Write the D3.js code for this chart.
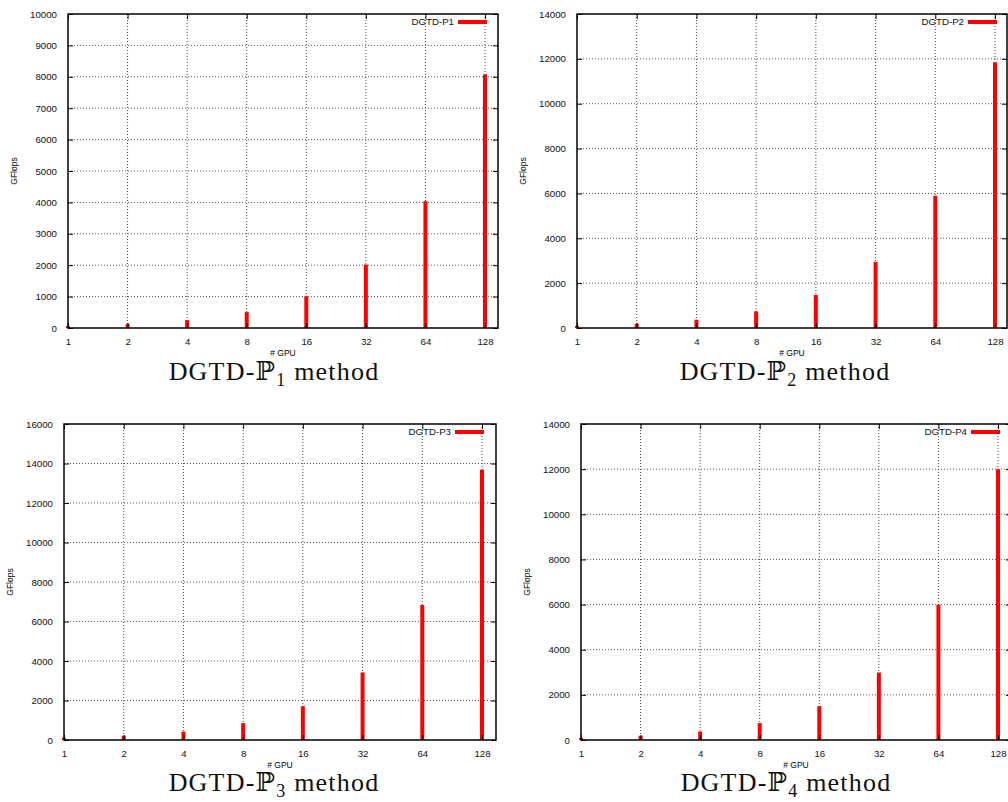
<!DOCTYPE html>
<html>
<head>
<meta charset="UTF-8">
<title>DGTD GFlops</title>
<script src="https://d3js.org/d3.v7.min.js"></script>
<style>
  body { margin: 0; background: #fff; }
  svg { display: block; }
</style>
</head>
<body>
<svg class="chart"></svg>
<script>
// data
const gpus = [1, 2, 4, 8, 16, 32, 64, 128];
const gflopsP1 = [62, 125, 250, 505, 1010, 2020, 4040, 8080];
const gflopsP2 = [92, 185, 370, 740, 1475, 2950, 5900, 11850];
const gflopsP3 = [107, 214, 428, 855, 1710, 3420, 6840, 13680];
const gflopsP4 = [94, 188, 375, 750, 1500, 2990, 5990, 11990];
const yTicksP1 = [0, 1000, 2000, 3000, 4000, 5000, 6000, 7000, 8000, 9000, 10000];
const yTicksP2 = [0, 2000, 4000, 6000, 8000, 10000, 12000, 14000];
const yTicksP3 = [0, 2000, 4000, 6000, 8000, 10000, 12000, 14000, 16000];
const yTicksP4 = [0, 2000, 4000, 6000, 8000, 10000, 12000, 14000];
const legendNames = ["DGTD-P1", "DGTD-P2", "DGTD-P3", "DGTD-P4"];
const titleSubs = ["1", "2", "3", "4"];

// panel placement
const panels = [
  {values: gflopsP1, ticks: yTicksP1, left: 68, top: 14, right: 498, bottom: 328, x128: 485, titleX: 274, titleY: 380},
  {values: gflopsP2, ticks: yTicksP2, left: 577, top: 14, right: 1007, bottom: 328, x128: 995, titleX: 785, titleY: 380},
  {values: gflopsP3, ticks: yTicksP3, left: 64, top: 424, right: 496, bottom: 740, x128: 482, titleX: 274, titleY: 791},
  {values: gflopsP4, ticks: yTicksP4, left: 581, top: 424, right: 1011, bottom: 740, x128: 998, titleX: 786, titleY: 791}
];

const svg = d3.select(".chart")
    .attr("width", 1008)
    .attr("height", 802);

const sans = "'Liberation Sans', Arial, sans-serif";

panels.forEach((p, i) => {
    const g = svg.append("g");

    const x = d3.scaleLog().base(2)
        .domain([1, 128])
        .range([p.left, p.x128]);

    const y = d3.scaleLinear()
        .domain([0, d3.max(p.ticks)])
        .range([p.bottom, p.top]);

    // grid lines
    g.selectAll(".hgrid")
        .data(p.ticks.slice(1, -1)).enter().append("line")
        .attr("x1", p.left).attr("x2", p.right)
        .attr("y1", d => y(d)).attr("y2", d => y(d))
        .style("stroke", "#555")
        .style("stroke-width", 1)
        .style("stroke-dasharray", "1,2");

    g.selectAll(".vgrid")
        .data(gpus.slice(1)).enter().append("line")
        .attr("x1", d => x(d)).attr("x2", d => x(d))
        .attr("y1", p.top).attr("y2", p.bottom)
        .style("stroke", "#444")
        .style("stroke-width", 1)
        .style("stroke-dasharray", "1,2");

    // bars (impulses)
    g.selectAll(".bar")
        .data(p.values).enter().append("line")
        .attr("x1", (d, j) => x(gpus[j])).attr("x2", (d, j) => x(gpus[j]))
        .attr("y1", y(0)).attr("y2", d => y(d))
        .style("stroke", "#ff0000")
        .style("stroke-width", 4);

    // y axis (ticks inward, labels outside)
    const yAxis = g.append("g")
        .attr("transform", `translate(${p.left},0)`)
        .call(d3.axisLeft(y).tickValues(p.ticks).tickSize(-5).tickPadding(11).tickFormat(d3.format("d")));
    yAxis.select(".domain").remove();

    const yAxisR = g.append("g")
        .attr("transform", `translate(${p.right},0)`)
        .call(d3.axisRight(y).tickValues(p.ticks).tickSize(-5).tickFormat(""));
    yAxisR.select(".domain").remove();

    const xAxis = g.append("g")
        .attr("transform", `translate(0,${p.bottom})`)
        .call(d3.axisBottom(x).tickValues(gpus).tickSize(-5).tickPadding(10).tickFormat(d3.format("d")));
    xAxis.select(".domain").remove();

    const xAxisT = g.append("g")
        .attr("transform", `translate(0,${p.top})`)
        .call(d3.axisTop(x).tickValues(gpus).tickSize(-5).tickFormat(""));
    xAxisT.select(".domain").remove();

    g.selectAll(".tick text")
        .style("font-family", sans)
        .style("font-size", "9.7px")
        .style("fill", "#111");
    g.selectAll(".tick line").style("stroke", "#000");

    // frame
    g.append("rect")
        .attr("x", p.left).attr("y", p.top)
        .attr("width", p.right - p.left).attr("height", p.bottom - p.top)
        .style("fill", "none")
        .style("stroke", "#000")
        .style("stroke-width", 1.5);

    // legend
    g.append("line")
        .attr("x1", p.x128 - 27).attr("x2", p.x128 + 2)
        .attr("y1", p.top + 8).attr("y2", p.top + 8)
        .style("stroke", "#ff0000")
        .style("stroke-width", 4);
    g.append("text")
        .attr("x", p.x128 - 31).attr("y", p.top + 11)
        .attr("text-anchor", "end")
        .style("font-family", sans)
        .style("font-size", "9.7px")
        .style("fill", "#111")
        .text(legendNames[i]);

    // axis labels
    g.append("text")
        .attr("x", (p.left + p.right) / 2)
        .attr("y", p.bottom + 28)
        .attr("text-anchor", "middle")
        .style("font-family", sans)
        .style("font-size", "8.5px")
        .text("# GPU");

    g.append("text")
        .attr("text-anchor", "middle")
        .attr("transform", `translate(${p.left - 51},${(p.top + p.bottom) / 2})rotate(-90)`)
        .style("font-family", sans)
        .style("font-size", "8.5px")
        .text("GFlops");

    // caption
    const t = g.append("text")
        .attr("x", p.titleX)
        .attr("y", p.titleY)
        .attr("text-anchor", "middle")
        .style("font-family", "'Liberation Serif', 'DejaVu Serif', serif")
        .style("font-size", "26px")
        .style("letter-spacing", "1.2px")
        .style("fill", "#111");
    t.append("tspan").text("DGTD-\u2119");
    t.append("tspan").attr("dy", 6).style("font-size", "18px").text(titleSubs[i]);
    t.append("tspan").attr("dy", -6).text(" method");
});
</script>
</body>
</html>
